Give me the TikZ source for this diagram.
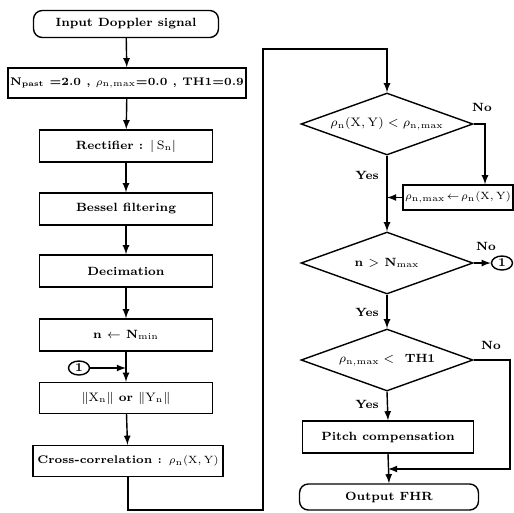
\documentclass[tikz,border=0pt]{standalone}
\usepackage{amsmath,amssymb}
\usepackage{tikz}
\usetikzlibrary{shapes.geometric,calc}

\begin{document}
\begin{tikzpicture}[x=0.02cm,y=-0.02cm,font=\fontsize{6.8}{8}\selectfont\bfseries,
  procbox/.style={draw,thick,rectangle,minimum width=3.46cm,minimum height=0.64cm,inner sep=1pt},
  termbox/.style={draw,thick,rectangle,rounded corners=5pt,minimum height=0.54cm,inner sep=1pt},
  decbox/.style={draw,thick,diamond,aspect=2.8,minimum width=3.44cm,minimum height=1.24cm,inner sep=0pt},
  conn/.style={draw,thick,ellipse,minimum width=0.42cm,minimum height=0.28cm,inner sep=0pt},
  flow/.style={thick,-latex}]
\useasboundingbox (0,0) rectangle (514,512);
% FHR estimation flow chart
\node[termbox,minimum width=3.7cm] (in) at (126,24) {Input Doppler signal};
\node[procbox,minimum width=4.76cm,minimum height=0.6cm,font=\fontsize{6.3}{8}\selectfont\bfseries] (init) at (127,83)
  {N$_{\text{past}}$ =2.0 , $\rho_{\mathrm{n,max}}$=0.0 , TH1=0.9};
\node[procbox] (rect) at (126,146) {Rectifier : $|\,\mathrm{S}_{\mathrm{n}}|$};
\node[procbox] (bessel) at (126,209) {Bessel filtering};
\node[procbox] (decim) at (126,271) {Decimation};
\node[procbox] (nset) at (126,335) {n $\leftarrow$ N$_{\mathrm{min}}$};
\node[procbox,minimum height=0.62cm] (xy) at (126,398)
  {$\|\mathrm{X}_{\mathrm{n}}\|$ or $\|\mathrm{Y}_{\mathrm{n}}\|$};
\node[procbox,minimum width=3.8cm,minimum height=0.62cm,font=\fontsize{6.3}{8}\selectfont\bfseries] (xcorr) at (128,461)
  {Cross-correlation : $\rho_{\mathrm{n}}(\mathrm{X,Y})$};
\node[conn] (c1) at (79,368) {1};
\coordinate (j1) at (126,368);

\node[decbox] (d1) at (387,124) {$\rho_{\mathrm{n}}(\mathrm{X,Y}) < \rho_{\mathrm{n,max}}$};
\node[procbox,minimum width=2.2cm,minimum height=0.5cm,font=\fontsize{6}{7}\selectfont] (upd) at (458,197.5)
  {$\rho_{\mathrm{n,max}}\!\leftarrow\!\rho_{\mathrm{n}}(\mathrm{X,Y})$};
\node[decbox] (d2) at (387,263) {n $>$ N$_{\mathrm{max}}$};
\node[conn] (c2) at (502,263) {1};
\node[decbox] (d3) at (387,360) {$\rho_{\mathrm{n,max}} <$ \ TH1};
\node[procbox,minimum width=3.42cm] (pitch) at (388,437) {Pitch compensation};
\node[termbox,minimum width=3.58cm,minimum height=0.52cm] (out) at (389,497) {Output FHR};

\coordinate (loopb) at (263,510);
\coordinate (loopt) at (263,49);
\coordinate (no1) at (485,124);
\coordinate (no3) at (510,360);
\coordinate (j3) at (388,469);

\draw[flow] (in) -- (init);
\draw[flow] (init) -- (rect);
\draw[flow] (rect) -- (bessel);
\draw[flow] (bessel) -- (decim);
\draw[flow] (decim) -- (nset);
\draw[flow] (nset) -- (xy);
\draw[flow] (c1) -- (j1);
\draw[flow] (xy) -- (xcorr);
\draw[flow] (xcorr.south) |- (loopb) -- (loopt) -| (d1.north);

\draw[flow] (d1.east) -- (no1) -- (no1 |- upd.north);
\draw[flow] (upd.west) -- (d1.south |- upd.west);
\draw[flow] (d1.south) -- (d2.north);
\draw[flow] (d2.east) -- (c2.west);
\draw[flow] (d2.south) -- (d3.north);
\draw[flow] (d3.south) -- (pitch.north);
\draw[flow] (d3.east) -- (no3) |- (j3);
\draw[flow] (pitch.south) -- (out.north);

\node at (482,107) {No};
\node at (486,246) {No};
\node at (491,345) {No};
\node[anchor=east] at (385,175) {Yes};
\node[anchor=east] at (385,312) {Yes};
\node[anchor=east] at (385,404) {Yes};
\end{tikzpicture}
\end{document}
